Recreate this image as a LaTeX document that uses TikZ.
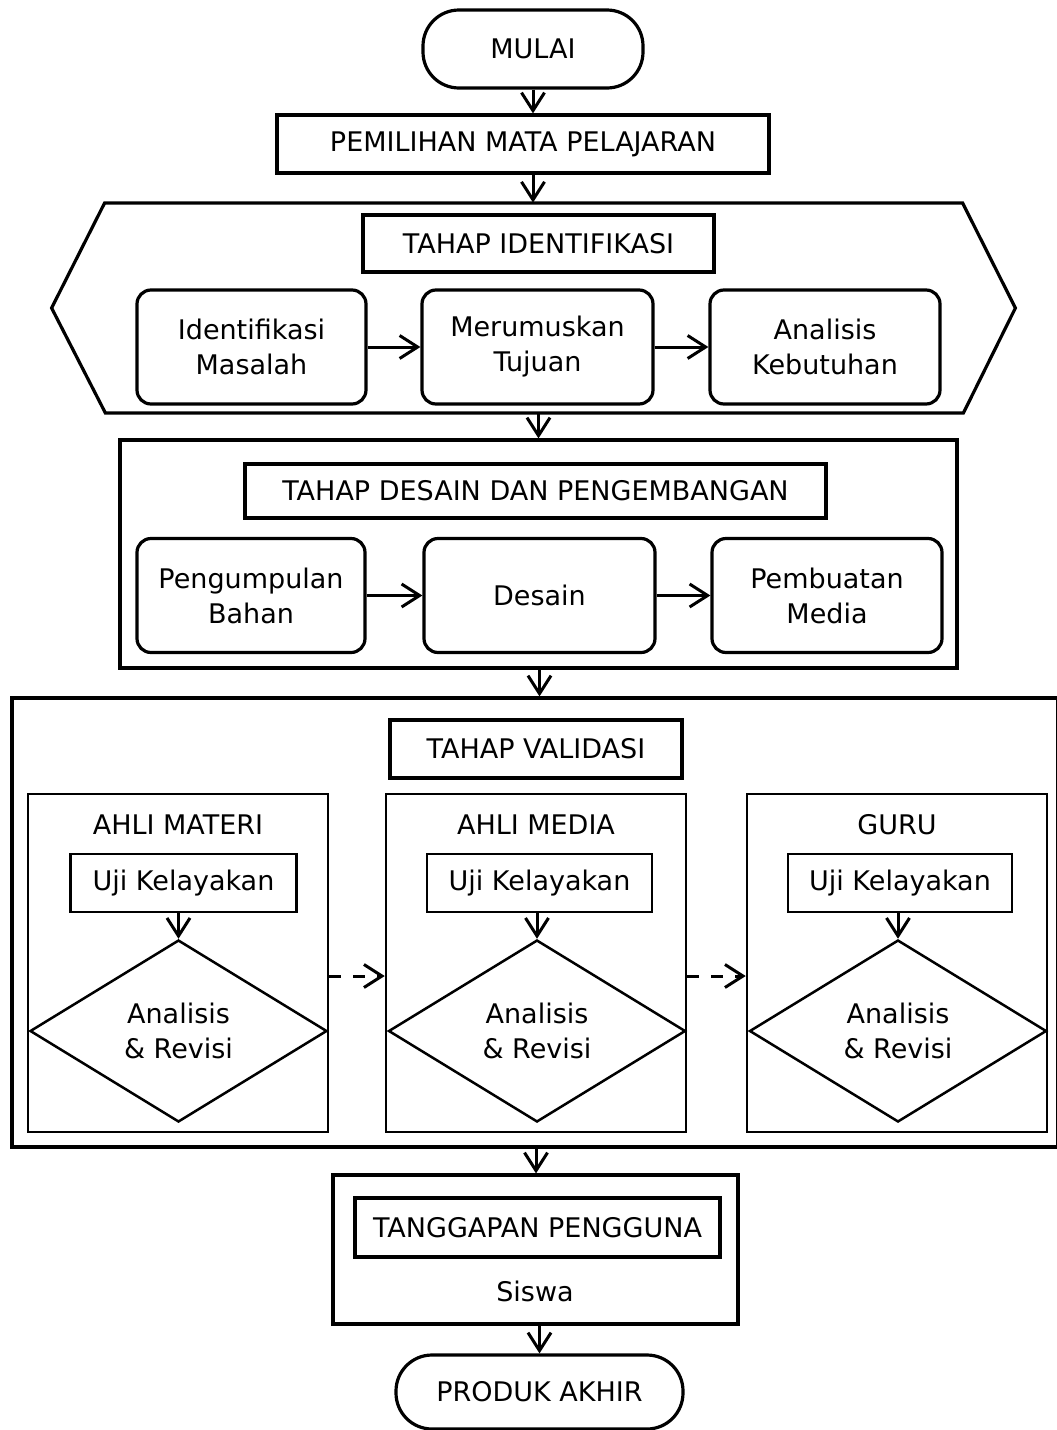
\documentclass[tikz,border=0pt]{standalone}
\usepackage{fontspec}
\setmainfont{DejaVu Sans}
\usetikzlibrary{arrows.meta,positioning,shapes.geometric}

\begin{document}
\begin{tikzpicture}[x=0.5pt,y=-0.5pt,
    font=\fontsize{13.5}{17.5}\selectfont,
    arr/.style={-{Straight Barb[length=9pt,width=11.5pt]}, line width=1.5pt},
    frame/.style={draw, rectangle, line width=1.6pt, inner sep=0pt, align=center},
    thinbox/.style={draw, rectangle, line width=1.25pt, inner sep=0pt, align=center},
    terminal/.style={draw, rectangle, rounded corners=18pt, line width=1.6pt, inner sep=0pt},
    stepbox/.style={draw, rectangle, rounded corners=7pt, line width=1.6pt, inner sep=0pt, align=center, minimum height=57pt},
    decision/.style={draw, diamond, line width=1.25pt, inner sep=0pt, align=center, minimum width=148.5pt, minimum height=91pt}]
    \useasboundingbox (0,0) rectangle (1056,1430);

    % Start
    \node[terminal, minimum width=110pt, minimum height=39pt] (mulai) at (533,49) {MULAI};
    \node[frame, minimum width=246pt, minimum height=29pt] (pilih) at (523,144) {PEMILIHAN MATA PELAJARAN};

    % Identification stage
    \node[minimum width=481.5pt, minimum height=105pt, inner sep=0pt] (ident) at (533.5,308) {};
    \draw[line width=1.6pt] (ident.west) -- ++(53,-105) -- ++(858,0) -- (ident.east) -- ++(-52,105) -- ++(-858,0) -- cycle;
    \node[frame, minimum width=175.5pt, minimum height=28.5pt] (tident) at (538.5,243.5) {TAHAP IDENTIFIKASI};
    \node[stepbox, minimum width=114.5pt] (masalah) at (251.5,347) {Identifikasi\\Masalah};
    \node[stepbox, minimum width=115.5pt] (tujuan) at (537.5,347) {Merumuskan\\Tujuan};
    \node[stepbox, minimum width=115pt] (butuh) at (825,347) {Analisis\\Kebutuhan};

    % Design and development stage
    \node[frame, minimum width=418.5pt, minimum height=114pt] (desainbox) at (538.5,554) {};
    \node[frame, minimum width=290.5pt, minimum height=27pt] (tdesain) at (535.5,491) {TAHAP DESAIN DAN PENGEMBANGAN};
    \node[stepbox, minimum width=114pt] (bahan) at (251,595.5) {Pengumpulan\\Bahan};
    \node[stepbox, minimum width=115.5pt] (desain) at (539.5,595.5) {Desain};
    \node[stepbox, minimum width=115pt] (media) at (827,595.5) {Pembuatan\\Media};

    % Validation stage
    \node[frame, minimum width=523pt, minimum height=224.5pt] (validbox) at (535,922.5) {};
    \node[frame, minimum width=146pt, minimum height=29pt] (tvalid) at (536,749) {TAHAP VALIDASI};

    \node[thinbox, minimum width=150pt, minimum height=169pt] (materi) at (178,963) {};
    \node[thinbox, minimum width=150pt, minimum height=169pt] (ahlimedia) at (536,963) {};
    \node[thinbox, minimum width=150pt, minimum height=169pt] (guru) at (897,963) {};

    \node (lmateri) at (178,825) {AHLI MATERI};
    \node (lmedia) at (536,825) {AHLI MEDIA};
    \node (lguru) at (897,825) {GURU};

    \node[thinbox, minimum width=113pt, minimum height=29pt] (ujia) at (183.5,883) {Uji Kelayakan};
    \node[thinbox, minimum width=112.5pt, minimum height=29pt] (ujib) at (539.5,883) {Uji Kelayakan};
    \node[thinbox, minimum width=112pt, minimum height=29pt] (ujic) at (900,883) {Uji Kelayakan};

    \node[decision] (reva) at (178.5,1031) {Analisis\\\& Revisi};
    \node[decision] (revb) at (537,1031) {Analisis\\\& Revisi};
    \node[decision] (revc) at (898,1031) {Analisis\\\& Revisi};

    % User response
    \node[frame, minimum width=202.5pt, minimum height=74.5pt] (tanggap) at (535.5,1249.5) {};
    \node[frame, minimum width=182.5pt, minimum height=29.5pt] (ttanggap) at (537.5,1227.5) {TANGGAPAN PENGGUNA};
    \node (siswa) at (535,1291) {Siswa};

    % End
    \node[terminal, minimum width=143.5pt, minimum height=37pt] (produk) at (539.5,1392) {PRODUK AKHIR};

    % Connections
    \draw[arr] (mulai) -- (mulai |- pilih.north);
    \draw[arr] (mulai |- pilih.south) -- (mulai |- ident.north);
    \draw[arr] (masalah) -- (tujuan);
    \draw[arr] (tujuan) -- (butuh);
    \draw[arr] (tident |- ident.south) -- (tident |- desainbox.north);
    \draw[arr] (bahan) -- (desain);
    \draw[arr] (desain) -- (media);
    \draw[arr] (desain |- desainbox.south) -- (desain |- validbox.north);
    \draw[arr] (ujia.south -| reva) -- (reva.north);
    \draw[arr] (ujib.south -| revb) -- (revb.north);
    \draw[arr] (ujic.south -| revc) -- (revc.north);
    \draw[arr, dashed, dash pattern=on 6pt off 6pt] ([yshift=-6.5pt]materi.east) -- ([yshift=-6.5pt]ahlimedia.west);
    \draw[arr, dashed, dash pattern=on 6pt off 6pt] ([yshift=-6.5pt]ahlimedia.east) -- ([yshift=-6.5pt]guru.west);
    \draw[arr] (tvalid |- validbox.south) -- (tvalid |- tanggap.north);
    \draw[arr] (produk |- tanggap.south) -- (produk.north);
\end{tikzpicture}
\end{document}
